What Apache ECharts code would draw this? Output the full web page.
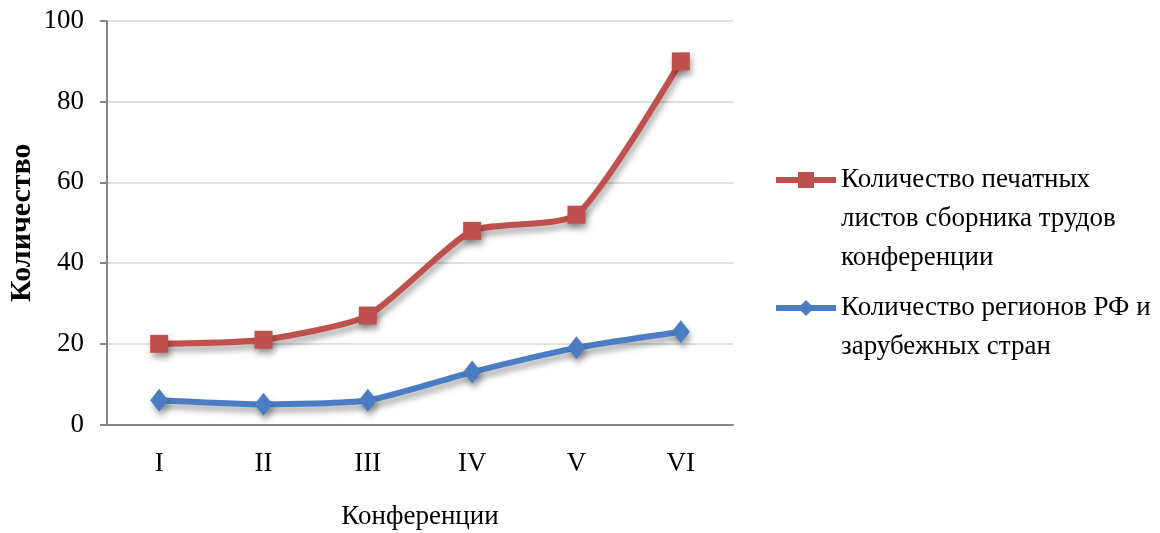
<!DOCTYPE html>
<html>
<head>
<meta charset="utf-8">
<script src="https://cdn.jsdelivr.net/npm/echarts@6/dist/echarts.min.js"></script>
<style>
  html, body { margin: 0; padding: 0; background: #fff; }
  #chart { width: 1160px; height: 533px; }
</style>
</head>
<body>
<div id="chart"></div>
<script>
// Conferences I–VI
const conferences = ['I', 'II', 'III', 'IV', 'V', 'VI'];
// Printed sheets of the proceedings
const printedSheets = [20, 21, 27, 48, 52, 90];
// Regions of Russia and foreign countries
const regions = [6, 5, 6, 13, 19, 23];
const yTicks = { min: 0, max: 100, interval: 20 };

const nameSheets = 'Количество печатных\nлистов сборника трудов\nконференции';
const nameRegions = 'Количество регионов РФ и\nзарубежных стран';

const FONT = 'Liberation Serif';
const RED = '#c0504d';
const BLUE = '#4a7dc4';
const LINE_H = 39;

const chart = echarts.init(document.getElementById('chart'), null, { renderer: 'canvas' });

const lineShadow = {
  shadowColor: 'rgba(0,0,0,0.35)',
  shadowBlur: 6,
  shadowOffsetX: 2,
  shadowOffsetY: 5
};

// Legend entry whose icon sits beside the first line of a wrapped label:
// blank lines are prepended so that the first line lands in the middle.
function legendFor(name, lines, top, color) {
  return {
    data: [name],
    formatter: n => '\n'.repeat(lines - 1) + n,
    left: 773,
    top: top,
    padding: 0,
    orient: 'vertical',
    itemWidth: 60,
    itemHeight: 20,
    selectedMode: false,
    lineStyle: { width: 6, color: color, shadowBlur: 0, shadowColor: 'transparent', shadowOffsetX: 0, shadowOffsetY: 0 },
    itemStyle: { color: color, shadowBlur: 0, shadowColor: 'transparent' },
    textStyle: {
      fontFamily: FONT,
      fontSize: 27,
      color: '#000',
      lineHeight: LINE_H
    }
  };
}

chart.setOption({
  animation: false,
  backgroundColor: '#fff',
  grid: {
    left: 107, right: 427, top: 21, bottom: 108.5,
    containLabel: false,
    outerBoundsMode: 'none'
  },
  legend: [
    legendFor(nameSheets, 3, 82.5, RED),
    legendFor(nameRegions, 2, 249.5, BLUE)
  ],
  xAxis: {
    type: 'category',
    data: conferences,
    boundaryGap: true,
    name: 'Конференции',
    nameLocation: 'middle',
    nameGap: 79,
    nameMoveOverlap: false,
    nameTextStyle: { fontFamily: FONT, fontSize: 27, color: '#000' },
    axisLine: { lineStyle: { color: '#868686', width: 2 } },
    axisTick: { show: false },
    axisLabel: { fontFamily: FONT, fontSize: 27, color: '#000', margin: 26 },
    splitLine: { show: false }
  },
  yAxis: {
    type: 'value',
    min: yTicks.min,
    max: yTicks.max,
    interval: yTicks.interval,
    name: 'Количество',
    nameLocation: 'middle',
    nameGap: 70,
    nameMoveOverlap: false,
    nameTextStyle: { fontFamily: FONT, fontSize: 30, fontWeight: 'bold', color: '#000' },
    axisLine: { show: true, lineStyle: { color: '#868686', width: 2 } },
    axisTick: { show: true, inside: false, length: 7, lineStyle: { color: '#868686', width: 2 } },
    axisLabel: { fontFamily: FONT, fontSize: 27, color: '#000', margin: 23 },
    splitLine: { show: true, lineStyle: { color: '#d6d6d6', width: 1.5 } }
  },
  series: [
    {
      name: nameSheets,
      type: 'line',
      data: printedSheets,
      smooth: 0.2,
      symbol: 'rect',
      symbolSize: 18,
      color: RED,
      lineStyle: Object.assign({ width: 6, color: RED }, lineShadow),
      itemStyle: Object.assign({ color: RED }, lineShadow),
      z: 3
    },
    {
      name: nameRegions,
      type: 'line',
      data: regions,
      smooth: 0.2,
      symbol: 'diamond',
      symbolSize: [18, 23],
      color: BLUE,
      lineStyle: Object.assign({ width: 6, color: BLUE }, lineShadow),
      itemStyle: Object.assign({ color: BLUE }, lineShadow),
      z: 2
    }
  ]
});
</script>
</body>
</html>
